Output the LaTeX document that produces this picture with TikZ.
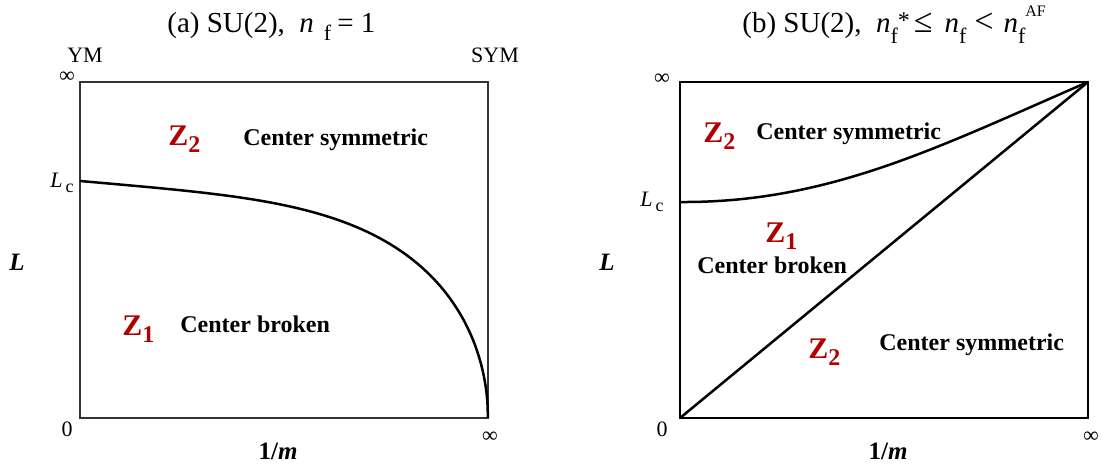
\documentclass[tikz,border=0pt]{standalone}
\usepackage{fontspec}
\setmainfont{Liberation Serif}
\usepackage{tikz}
\usetikzlibrary{positioning}
\definecolor{zred}{HTML}{B00000}
\tikzstyle{frame}=[line width=0.65pt]
\tikzstyle{bound}=[line width=1.25pt]
\tikzstyle{lab}=[inner sep=0pt,font=\fontsize{11}{13}\selectfont]
\tikzstyle{ttl}=[inner sep=0pt,anchor=base west,font=\fontsize{14.5}{17}\selectfont]
\tikzstyle{phase}=[inner sep=0pt,anchor=base west,font=\bfseries\fontsize{12}{14}\selectfont]
\tikzstyle{zlab}=[inner sep=0pt,anchor=base west,text=zred,font=\bfseries\fontsize{15}{17}\selectfont]
\tikzstyle{axlab}=[inner sep=0pt,font=\bfseries\fontsize{12.5}{15}\selectfont]

\newcommand{\zsub}[1]{Z\raisebox{-3.5pt}{\fontsize{12}{12}\selectfont #1}}
\newcommand{\lcl}{\textit{L}\raisebox{-2.5pt}{\fontsize{9}{9}\selectfont\,c}}
\newcommand{\fsub}{\raisebox{-5.5pt}{\fontsize{11}{11}\selectfont f}}
\newcommand{\rel}[1]{{\fontsize{17}{17}\selectfont #1}}

\begin{document}
\begin{tikzpicture}[x=0.5pt,y=-0.5pt]
  \useasboundingbox (0,0) rectangle (1102,465);

  % (a)
  \coordinate (A0) at (80,418);
  \coordinate (A1) at (488,82);
  \coordinate (Aend) at (488,418);
  \draw[frame,black!80] (A0) rectangle (A1);
  \draw[bound] plot[domain=0:0.999,samples=400]
    ({80+408*\x},{418-237*sqrt(max(0,1-0.3*\x-0.7*\x*\x*\x*\x))}) -- (Aend);

  \node[ttl] (ttlA) at (167,33) {(a) SU(2),\ \ \textit{n}\hspace{5pt}\raisebox{-4pt}{\fontsize{11}{11}\selectfont f}\hspace{3pt}= 1};
  \node[lab,anchor=base] (ym) at (85,63) {YM};
  \node[lab,anchor=base] (sym) at (495,63) {SYM};
  \node[lab] (infA) at (67,77) {∞};
  \node[lab,anchor=base east] (lcA) at (74,187) {\lcl};
  \node[axlab] (lA) at (17,262) {\textit{L}};
  \node[lab] (zeroA) at (67,429) {0};
  \node[lab] (infmA) at (490,437) {∞};
  \node[axlab,anchor=base] (mA) at (278,459) {1/\textit{m}};

  \node[zlab] (zA2) at (168,145) {\zsub{2}};
  \node[phase] (symA) at (243,146) {Center symmetric};
  \node[zlab] (zA1) at (122,335) {\zsub{1}};
  \node[phase] (brkA) at (180,332) {Center broken};

  % (b)
  \coordinate (B0) at (680,418);
  \coordinate (B1) at (1088,82);
  \draw[frame] (B0) rectangle (B1);
  \draw[bound] (B0) -- (B1);
  \draw[bound] (680,202) .. controls (830,203) and (940,146) .. (B1);

  \node[ttl] (ttlB) at (742,33) {(b) SU(2),\ \ \textit{n}\fsub\raisebox{2pt}{\fontsize{12}{12}\selectfont *}\hspace{2pt}\rel{≤}\hspace{6pt}\textit{n}\fsub\hspace{4pt}\rel{<}\hspace{5pt}\textit{n}\fsub\raisebox{8pt}{\fontsize{8}{8}\selectfont AF}};
  \node[lab] (infB) at (662,79) {∞};
  \node[lab,anchor=base east] (lcB) at (664,206) {\lcl};
  \node[axlab] (lB) at (607,262) {\textit{L}};
  \node[lab] (zeroB) at (662,429) {0};
  \node[lab] (infmB) at (1091,437) {∞};
  \node[axlab,anchor=base] (mB) at (888,459) {1/\textit{m}};

  \node[zlab] (zB2) at (703,142) {\zsub{2}};
  \node[phase] (symB) at (756,140) {Center symmetric};
  \node[zlab] (zB1) at (765,242) {\zsub{1}};
  \node[phase] (brkB) at (697,273) {Center broken};
  \node[zlab] (zB3) at (808,358) {\zsub{2}};
  \node[phase] (symB2) at (879,350) {Center symmetric};
\end{tikzpicture}
\end{document}
